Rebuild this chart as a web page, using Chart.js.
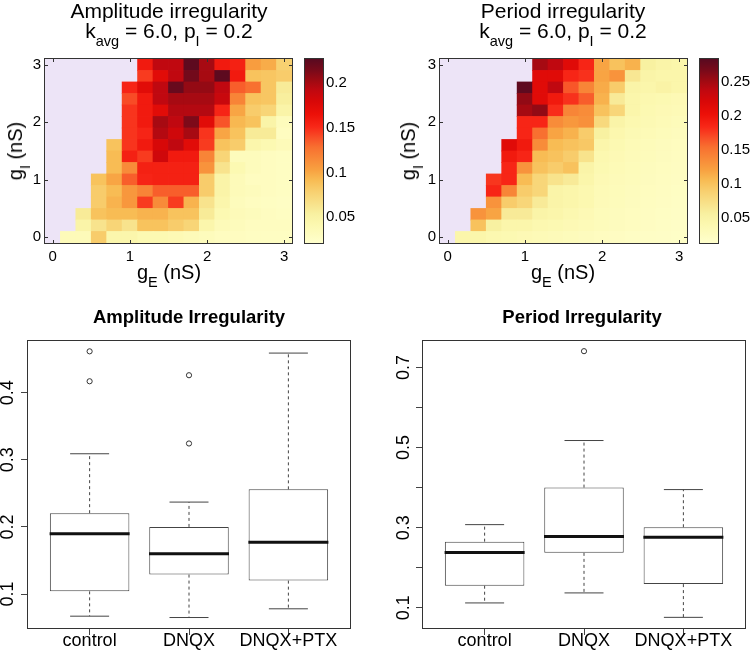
<!DOCTYPE html>
<html><head><meta charset="utf-8">
<script src="https://cdn.jsdelivr.net/npm/chart.js@4.4.0/dist/chart.umd.min.js"></script>
<style>
html,body{margin:0;padding:0;width:750px;height:650px;overflow:hidden;background:#fff;font-family:"Liberation Sans",Arial,Helvetica,sans-serif;}
#wrap{position:relative;width:750px;height:650px;}
canvas{position:absolute;}
.t{position:absolute;color:#000;white-space:nowrap;text-align:center;font-size:20px;line-height:20px;}
.tt{font-size:21px;}
.t sub{font-size:14.5px;vertical-align:-8px;line-height:0;}
.rot{transform:translate(-50%,-50%) rotate(-90deg);}
.ctr{transform:translate(-50%,-50%);}
.bt{position:absolute;font-weight:bold;font-size:18.5px;white-space:nowrap;transform:translate(-50%,-50%);}
</style></head><body>
<div id="wrap">
<canvas id="h1" width="300" height="250" style="left:0;top:40px"></canvas>
<canvas id="c1" width="60" height="250" style="left:300px;top:40px"></canvas>
<canvas id="h2" width="325" height="250" style="left:375px;top:40px"></canvas>
<canvas id="c2" width="55" height="250" style="left:695px;top:40px"></canvas>
<canvas id="b1" width="375" height="360" style="left:0;top:290px"></canvas>
<canvas id="b2" width="375" height="360" style="left:375px;top:290px"></canvas>

<div class="t tt" style="left:-31px;top:1px;width:400px">Amplitude irregularity<br>k<sub>avg</sub> = 6.0, p<sub>I</sub> = 0.2</div>
<div class="t tt" style="left:363px;top:1px;width:400px">Period irregularity<br>k<sub>avg</sub> = 6.0, p<sub>I</sub> = 0.2</div>
<div class="t rot" style="left:15px;top:151px">g<sub>I</sub> (nS)</div>
<div class="t rot" style="left:408px;top:151px">g<sub>I</sub> (nS)</div>
<div class="t ctr" style="left:169px;top:272px">g<sub>E</sub> (nS)</div>
<div class="t ctr" style="left:563px;top:272px">g<sub>E</sub> (nS)</div>
<div class="bt" style="left:189px;top:317px">Amplitude Irregularity</div>
<div class="bt" style="left:582px;top:317px">Period Irregularity</div>
</div>
<script>
// ---------- data ----------
const gE = [0, 0.2, 0.4, 0.6, 0.8, 1, 1.2, 1.4, 1.6, 1.8, 2, 2.2, 2.4, 2.6, 2.8, 3];
const gI = [0, 0.2, 0.4, 0.6, 0.8, 1, 1.2, 1.4, 1.6, 1.8, 2, 2.2, 2.4, 2.6, 2.8, 3];
const heatTicks = [0, 1, 2, 3];

// amplitude irregularity, rows indexed by gI (ascending), columns by gE
const ampIrregularity = [
  [null,0.035,0.035,0.081,0.045,0.045,0.040,0.040,0.038,0.035,0.033,0.030,0.030,0.028,0.028,0.028],
  [null,null,0.048,0.064,0.075,0.064,0.087,0.087,0.081,0.075,0.045,0.035,0.033,0.030,0.030,0.030],
  [null,null,0.058,0.087,0.091,0.091,0.095,0.095,0.087,0.087,0.058,0.040,0.035,0.033,0.030,0.028],
  [null,null,null,0.081,0.095,0.108,0.145,0.114,0.145,0.095,0.064,0.045,0.033,0.030,0.028,0.027],
  [null,null,null,0.081,0.091,0.108,0.118,0.134,0.134,0.134,0.081,0.048,0.035,0.033,0.030,0.028],
  [null,null,null,0.087,0.101,0.134,0.153,0.155,0.155,0.155,0.081,0.048,0.035,0.030,0.030,0.028],
  [null,null,null,null,0.091,0.114,0.155,0.155,0.155,0.155,0.110,0.064,0.040,0.033,0.030,0.028],
  [null,null,null,null,0.091,0.155,0.145,0.184,0.159,0.159,0.118,0.075,0.033,0.033,0.030,0.028],
  [null,null,null,null,0.087,0.147,0.159,0.180,0.192,0.173,0.145,0.087,0.081,0.045,0.040,0.035],
  [null,null,null,null,null,0.147,0.153,0.196,0.184,0.200,0.147,0.101,0.087,0.058,0.058,0.030],
  [null,null,null,null,null,0.147,0.159,0.200,0.192,0.213,0.173,0.137,0.093,0.087,0.048,0.033],
  [null,null,null,null,null,0.147,0.159,0.173,0.196,0.196,0.196,0.153,0.101,0.081,0.075,0.048],
  [null,null,null,null,null,0.140,0.159,0.192,0.200,0.200,0.200,0.188,0.118,0.087,0.085,0.055],
  [null,null,null,null,null,0.153,0.173,0.192,0.221,0.206,0.206,0.192,0.134,0.128,0.085,0.058],
  [null,null,null,null,null,null,0.145,0.173,0.192,0.217,0.200,0.225,0.159,0.087,0.085,0.081],
  [null,null,null,null,null,null,0.159,0.192,0.192,0.225,0.200,0.159,0.155,0.105,0.098,0.078]
];
// period irregularity, rows indexed by gI (ascending), columns by gE
const perIrregularity = [
  [null,0.045,0.045,0.040,0.038,0.035,0.033,0.031,0.029,0.027,0.025,0.023,0.021,0.020,0.019,0.018],
  [null,null,0.100,0.055,0.045,0.045,0.040,0.038,0.035,0.032,0.029,0.027,0.025,0.023,0.021,0.019],
  [null,null,0.130,0.119,0.062,0.062,0.048,0.045,0.040,0.035,0.030,0.028,0.026,0.024,0.022,0.020],
  [null,null,null,0.130,0.092,0.083,0.062,0.048,0.045,0.040,0.032,0.029,0.027,0.025,0.023,0.021],
  [null,null,null,0.186,0.140,0.092,0.083,0.048,0.045,0.040,0.033,0.030,0.028,0.026,0.024,0.022],
  [null,null,null,0.178,0.186,0.105,0.083,0.070,0.062,0.045,0.035,0.031,0.029,0.027,0.025,0.023],
  [null,null,null,null,0.186,0.130,0.100,0.092,0.100,0.048,0.038,0.033,0.030,0.028,0.026,0.024],
  [null,null,null,null,0.195,0.186,0.105,0.100,0.092,0.070,0.040,0.035,0.031,0.029,0.027,0.025],
  [null,null,null,null,0.214,0.195,0.135,0.105,0.100,0.095,0.045,0.038,0.033,0.030,0.028,0.026],
  [null,null,null,null,null,0.186,0.154,0.119,0.111,0.092,0.055,0.042,0.036,0.033,0.030,0.028],
  [null,null,null,null,null,0.186,0.186,0.135,0.127,0.132,0.080,0.048,0.040,0.036,0.033,0.030],
  [null,null,null,null,null,0.249,0.257,0.182,0.140,0.135,0.100,0.083,0.045,0.038,0.035,0.033],
  [null,null,null,null,null,0.257,0.214,0.195,0.180,0.162,0.111,0.062,0.045,0.040,0.038,0.035],
  [null,null,null,null,null,0.281,0.214,0.238,0.165,0.140,0.115,0.092,0.048,0.045,0.050,0.045],
  [null,null,null,null,null,null,0.214,0.214,0.186,0.180,0.119,0.130,0.065,0.048,0.045,0.045],
  [null,null,null,null,null,null,0.249,0.238,0.214,0.186,0.119,0.100,0.111,0.055,0.048,0.045]
];
const ampColorRange = [0.021, 0.227];
const perColorRange = [0.013, 0.284];
const ampColorbarTicks = [0.05, 0.1, 0.15, 0.2];
const perColorbarTicks = [0.05, 0.1, 0.15, 0.2, 0.25];

// box plots
const boxCategories = ['control', 'DNQX', 'DNQX+PTX'];
const ampMin = [0.067, 0.065, 0.078];
const ampQ1 = [0.104, 0.129, 0.120];
const ampMedian = [0.190, 0.160, 0.177];
const ampQ3 = [0.2205, 0.200, 0.256];
const ampMax = [0.309, 0.237, 0.459];
const ampOutliers = [[0.4616, 0.417], [0.426, 0.3243], []];
const ampYRange = [0.0494, 0.477];
const ampYTicks = [0.1, 0.2, 0.3, 0.4];
const ampYLabels = [0.1, 0.2, 0.3, 0.4];

const perMin = [0.112, 0.137, 0.076];
const perQ1 = [0.155, 0.237, 0.159];
const perMedian = [0.238, 0.278, 0.276];
const perQ3 = [0.265, 0.400, 0.301];
const perMax = [0.3075, 0.5175, 0.395];
const perOutliers = [[], [0.7406], []];
const perYRange = [0.0494, 0.766];
const perYTicks = [0.1, 0.2, 0.3, 0.4, 0.5, 0.6, 0.7];
const perYLabels = [0.1, 0.3, 0.5, 0.7];
const boxXRange = [0.38, 3.62];

// ---------- styling ----------
const cmapStops = [[0,'#FFFFCC'],[0.10,'#FCF8B0'],[0.16,'#F8F0A0'],[0.22,'#F8E088'],[0.28,'#F8D070'],
  [0.34,'#F8BC54'],[0.40,'#F8A040'],[0.46,'#F88838'],[0.52,'#F87030'],[0.57,'#F85028'],[0.63,'#F82818'],
  [0.70,'#EC1008'],[0.77,'#D80808'],[0.83,'#C00810'],[0.88,'#A00A12'],[0.94,'#780A1A'],[1,'#580A20']];
const nanColor = '#EDE4F7';
const axisColor = '#333333';
Chart.defaults.font.family = "'Liberation Sans', Arial, Helvetica, sans-serif";
Chart.defaults.color = '#000';

function hexRgb(h){ return [parseInt(h.slice(1,3),16), parseInt(h.slice(3,5),16), parseInt(h.slice(5,7),16)]; }
function cmap(v, lo, hi){
  let t = Math.max(0, Math.min(1, (v - lo) / (hi - lo)));
  for (let i = 1; i < cmapStops.length; i++){
    if (t <= cmapStops[i][0]){
      const [t0,c0] = cmapStops[i-1], [t1,c1] = cmapStops[i];
      const f = (t - t0) / (t1 - t0), a = hexRgb(c0), b = hexRgb(c1);
      return 'rgb(' + a.map((x,k)=>Math.round(x + (b[k]-x)*f)).join(',') + ')';
    }
  }
  return cmapStops[cmapStops.length-1][1];
}

const bgPlugin = { id:'bg', beforeDatasetsDraw(chart, args, o){
  if (!o || !o.color) return; const a = chart.chartArea, c = chart.ctx;
  c.save(); c.fillStyle = o.color; c.fillRect(a.left, a.top, a.right-a.left, a.bottom-a.top); c.restore(); } };
const framePlugin = { id:'frame', afterDatasetsDraw(chart, args, o){
  const a = chart.chartArea, c = chart.ctx;
  c.save(); c.strokeStyle = o.color || axisColor; c.lineWidth = 1;
  c.strokeRect(Math.round(a.left)-0.5, Math.round(a.top)-0.5, Math.round(a.right-a.left)+1, Math.round(a.bottom-a.top)+1);
  if (o.inTicks){
    const L = o.inTicks, sx = chart.scales.x, sy = chart.scales.y;
    c.beginPath();
    sx.ticks.forEach((t,i)=>{ const p = Math.round(sx.getPixelForTick(i))+0.5;
      c.moveTo(p, a.bottom); c.lineTo(p, a.bottom-L); c.moveTo(p, a.top); c.lineTo(p, a.top+L); });
    sy.ticks.forEach((t,i)=>{ const p = Math.round(sy.getPixelForTick(i))+0.5;
      c.moveTo(a.left, p); c.lineTo(a.left+L, p); c.moveTo(a.right, p); c.lineTo(a.right-L, p); });
    c.stroke();
  }
  c.restore(); } };

const cellHalf = (gI[1] - gI[0]) / 2;

function heatmap(id, rows, range, yAxisWidth, padRight){
  const datasets = gI.map((gi, j) => ({
    data: rows[j].map(v => v == null ? null : [gi - cellHalf, gi + cellHalf]),
    backgroundColor: rows[j].map(v => v == null ? 'rgba(0,0,0,0)' : cmap(v, range[0], range[1])),
    grouped: false, barPercentage: 1, categoryPercentage: 1, borderWidth: 0, inflateAmount: 0.4
  }));
  new Chart(document.getElementById(id), {
    type: 'bar',
    data: { labels: gE.map(String), datasets },
    plugins: [bgPlugin, framePlugin],
    options: {
      responsive: false, animation: false, events: [],
      layout: { autoPadding: false, padding: { left: 0, right: padRight, top: 19, bottom: 0 } },
      plugins: { legend: { display: false }, tooltip: { enabled: false },
        bg: { color: nanColor }, frame: { color: axisColor, inTicks: 3 } },
      scales: {
        x: { type: 'category', offset: true,
          grid: { display: false, drawTicks: false }, border: { display: false },
          afterBuildTicks: s => { s.ticks = heatTicks.map(v => ({ value: gE.indexOf(v) })); },
          ticks: { autoSkip: false, maxRotation: 0, padding: 5, font: { size: 15 }, color: '#000' },
          afterFit: s => { s.height = 47; } },
        y: { type: 'linear', min: gI[0] - cellHalf, max: gI[gI.length-1] + cellHalf,
          grid: { display: false, drawTicks: false }, border: { display: false },
          afterBuildTicks: s => { s.ticks = heatTicks.map(v => ({ value: v })); },
          ticks: { padding: 4, font: { size: 15 }, color: '#000', callback: v => String(v) },
          afterFit: s => { s.width = yAxisWidth; } }
      }
    }
  });
}

function colorbar(id, range, ticks, axisWidth){
  new Chart(document.getElementById(id), {
    type: 'bar',
    data: { labels: [''], datasets: [{
      data: [[range[0], range[1]]],
      backgroundColor: ctx => {
        const a = ctx.chart.chartArea; if (!a) return '#fff';
        const g = ctx.chart.ctx.createLinearGradient(0, a.bottom, 0, a.top);
        cmapStops.forEach(([t, c]) => g.addColorStop(t, c));
        return g;
      },
      barPercentage: 1, categoryPercentage: 1, borderWidth: 0, inflateAmount: 0 }] },
    plugins: [framePlugin],
    options: {
      responsive: false, animation: false, events: [],
      layout: { autoPadding: false, padding: { left: 5, right: 0, top: 19, bottom: 47 } },
      plugins: { legend: { display: false }, tooltip: { enabled: false }, frame: { color: axisColor } },
      scales: {
        x: { display: false },
        y: { position: 'right', min: range[0], max: range[1],
          grid: { display: false, drawTicks: false }, border: { display: false },
          afterBuildTicks: s => { s.ticks = ticks.map(v => ({ value: v })); },
          ticks: { padding: 3, font: { size: 15 }, color: '#000', callback: v => String(v) },
          afterFit: s => { s.width = axisWidth; } }
      }
    }
  });
}

function boxplot(id, st, yRange, yTicks, yLabels, yAxisWidth, padRight, yPad){
  const xs = boxCategories.map((c, i) => i + 1);
  const whiskers = [], caps = [], medians = [], outs = [];
  xs.forEach((x, i) => {
    whiskers.push({x, y: st.q3[i]}, {x, y: st.max[i]}, {x, y: null}, {x, y: st.q1[i]}, {x, y: st.min[i]}, {x, y: null});
    caps.push({x, y: st.max[i]}, {x, y: st.min[i]});
    medians.push({x, y: st.med[i]});
    st.out[i].forEach(v => outs.push({x, y: v}));
  });
  new Chart(document.getElementById(id), {
    type: 'scatter',
    data: { datasets: [
      { type: 'scatter', order: 0, data: medians, pointStyle: 'line', pointRadius: 40, borderWidth: 3, borderColor: '#111' },
      { type: 'scatter', order: 1, data: outs, pointStyle: 'circle', pointRadius: 2.6, borderWidth: 1, borderColor: '#333', backgroundColor: '#fff' },
      { type: 'scatter', order: 2, data: caps, pointStyle: 'line', pointRadius: 19.5, borderWidth: 1, borderColor: '#444' },
      { type: 'line', order: 3, data: whiskers, borderDash: [3, 3], borderWidth: 1, borderColor: '#444', pointRadius: 0, spanGaps: false, fill: false },
      { type: 'bar', order: 4, data: xs.map((x, i) => ({x, y: [st.q1[i], st.q3[i]]})), backgroundColor: '#fff',
        borderColor: '#444', borderWidth: 1, borderSkipped: false, barPercentage: 0.8, categoryPercentage: 1 }
    ] },
    plugins: [framePlugin],
    options: {
      responsive: false, animation: false, events: [],
      layout: { autoPadding: false, padding: { left: 0, right: padRight, top: 51, bottom: 0 } },
      plugins: { legend: { display: false }, tooltip: { enabled: false }, frame: { color: '#333' } },
      scales: {
        x: { type: 'linear', min: boxXRange[0], max: boxXRange[1], offset: false,
          grid: { display: true, drawOnChartArea: false, drawTicks: true, tickLength: 7, color: '#444', offset: false },
          border: { display: false },
          afterBuildTicks: s => { s.ticks = xs.map(v => ({ value: v })); },
          ticks: { autoSkip: false, maxRotation: 0, padding: -5, font: { size: 18 }, color: '#000',
            callback: v => boxCategories[v - 1] },
          afterFit: s => { s.height = 22; } },
        y: { type: 'linear', min: yRange[0], max: yRange[1],
          grid: { display: true, drawOnChartArea: false, drawTicks: true, tickLength: 7, color: '#444' },
          border: { display: false },
          afterBuildTicks: s => { s.ticks = yTicks.map(v => ({ value: v })); },
          ticks: { autoSkip: false, minRotation: 90, maxRotation: 90, crossAlign: 'center', padding: yPad,
            font: { size: 18 }, color: '#000',
            callback: v => yLabels.some(l => Math.abs(l - v) < 1e-9) ? String(v) : '' },
          afterFit: s => { s.width = yAxisWidth; } }
      }
    }
  });
}

heatmap('h1', ampIrregularity, ampColorRange, 45, 8);
colorbar('c1', ampColorRange, ampColorbarTicks, 37);
heatmap('h2', perIrregularity, perColorRange, 65, 13);
colorbar('c2', perColorRange, perColorbarTicks, 32);
boxplot('b1', {min: ampMin, q1: ampQ1, med: ampMedian, q3: ampQ3, max: ampMax, out: ampOutliers}, ampYRange, ampYTicks, ampYLabels, 28, 25, 0);
boxplot('b2', {min: perMin, q1: perQ1, med: perMedian, q3: perQ3, max: perMax, out: perOutliers}, perYRange, perYTicks, perYLabels, 48, 5, -1);
</script>
</body></html>
